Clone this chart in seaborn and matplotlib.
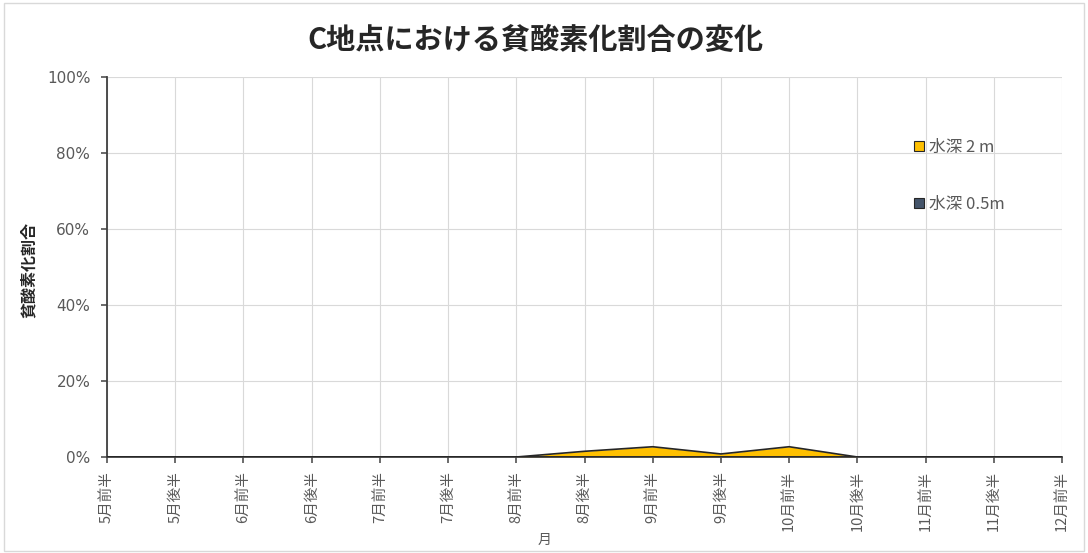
import matplotlib
matplotlib.use("Agg")
import matplotlib.pyplot as plt
import seaborn as sns
import pandas as pd
import numpy as np
from matplotlib.patches import Rectangle
from matplotlib.lines import Line2D

sns.set_theme(style="white")
plt.rcParams['font.family'] = ['Noto Sans CJK JP', 'DejaVu Sans']

periods = ["5月前半", "5月後半", "6月前半", "6月後半", "7月前半", "7月後半", "8月前半",
           "8月後半", "9月前半", "9月後半", "10月前半", "10月後半", "11月前半", "11月後半", "12月前半"]
depth_2m = [0, 0, 0, 0, 0, 0, 0, 1.5, 2.7, 0.8, 2.7, 0, 0, 0, 0]
depth_05m = [0, 0, 0, 0, 0, 0, 0, 0, 0, 0, 0, 0, 0, 0, 0]
series_names = ["水深 2 m", "水深 0.5m"]
series_colors = ["#FFC000", "#44546A"]

title = "C地点における貧酸素化割合の変化"
ylabel = "貧酸素化割合"
xlabel = "月"

df = pd.DataFrame({"period": periods, series_names[0]: depth_2m, series_names[1]: depth_05m})
df["pos"] = np.arange(len(periods))
long = df.melt(id_vars=["period", "pos"], var_name="series", value_name="ratio")

fig = plt.figure(figsize=(10.88, 5.53), dpi=100)
fig.patch.set_facecolor("white")
fig.patches.append(Rectangle((0.004, 0.004), 0.992, 0.99, transform=fig.transFigure,
                             fill=False, edgecolor="#D9D9D9", linewidth=1))
ax = fig.add_axes([107 / 1088, 1 - 457 / 553, (1062 - 107) / 1088, (457 - 77) / 553])

for name, color in zip(series_names, series_colors):
    sub = long[long["series"] == name]
    ax.fill_between(sub["pos"], 0, sub["ratio"], color=color, linewidth=0, zorder=2)
sns.lineplot(data=long, x="pos", y="ratio", hue="series", palette=["#262626", "#262626"],
             linewidth=1.2, legend=False, ax=ax, zorder=3)

ax.set_xlim(0, len(periods) - 1)
ax.set_ylim(0, 100)
ax.set_xticks(df["pos"])
ax.set_xticklabels(periods, rotation=90, fontsize=10.5, color="#595959")
ax.set_yticks([0, 20, 40, 60, 80, 100])
ax.set_yticklabels([f"{v}%" for v in [0, 20, 40, 60, 80, 100]], fontsize=11,
                   color="#595959", family=["DejaVu Sans"])
ax.tick_params(axis="x", length=4, color="#595959", pad=6, bottom=True)
ax.tick_params(axis="y", length=4, color="#595959", pad=8, left=True)
ax.grid(True, color="#D9D9D9", linewidth=0.8, zorder=0)
ax.set_axisbelow(True)
for side in ["top", "right"]:
    ax.spines[side].set_visible(False)
for side in ["left", "bottom"]:
    ax.spines[side].set_color("#404040")
    ax.spines[side].set_linewidth(1.3)

ax.set_ylabel(ylabel, fontsize=11.5, fontweight="bold", color="#262626")
ax.yaxis.set_label_coords((37 - 107) / (1062 - 107), (457 - 270) / (457 - 77))
ax.set_xlabel(xlabel, fontsize=10, color="#595959")
ax.xaxis.set_label_coords((545 - 107) / (1062 - 107), -(540 - 457) / (457 - 77))
ax.xaxis.label.set_va("center")

fig.text(535 / 1088, 1 - 40 / 553, title, ha="center", va="center", fontsize=21,
         fontweight="bold", color="#262626")

handles = [Line2D([0], [0], marker="s", linestyle="none", markersize=7,
                  markerfacecolor=c, markeredgecolor="#262626", markeredgewidth=0.8)
           for c in series_colors]
leg = ax.legend(handles, series_names, loc="upper left", bbox_to_anchor=(0.835, 0.855),
                frameon=False, fontsize=12, labelspacing=2.4, handletextpad=0.1,
                handlelength=1.0, borderaxespad=0)
for t in leg.get_texts():
    t.set_color("#595959")

fig.savefig("out.png", dpi=100)
